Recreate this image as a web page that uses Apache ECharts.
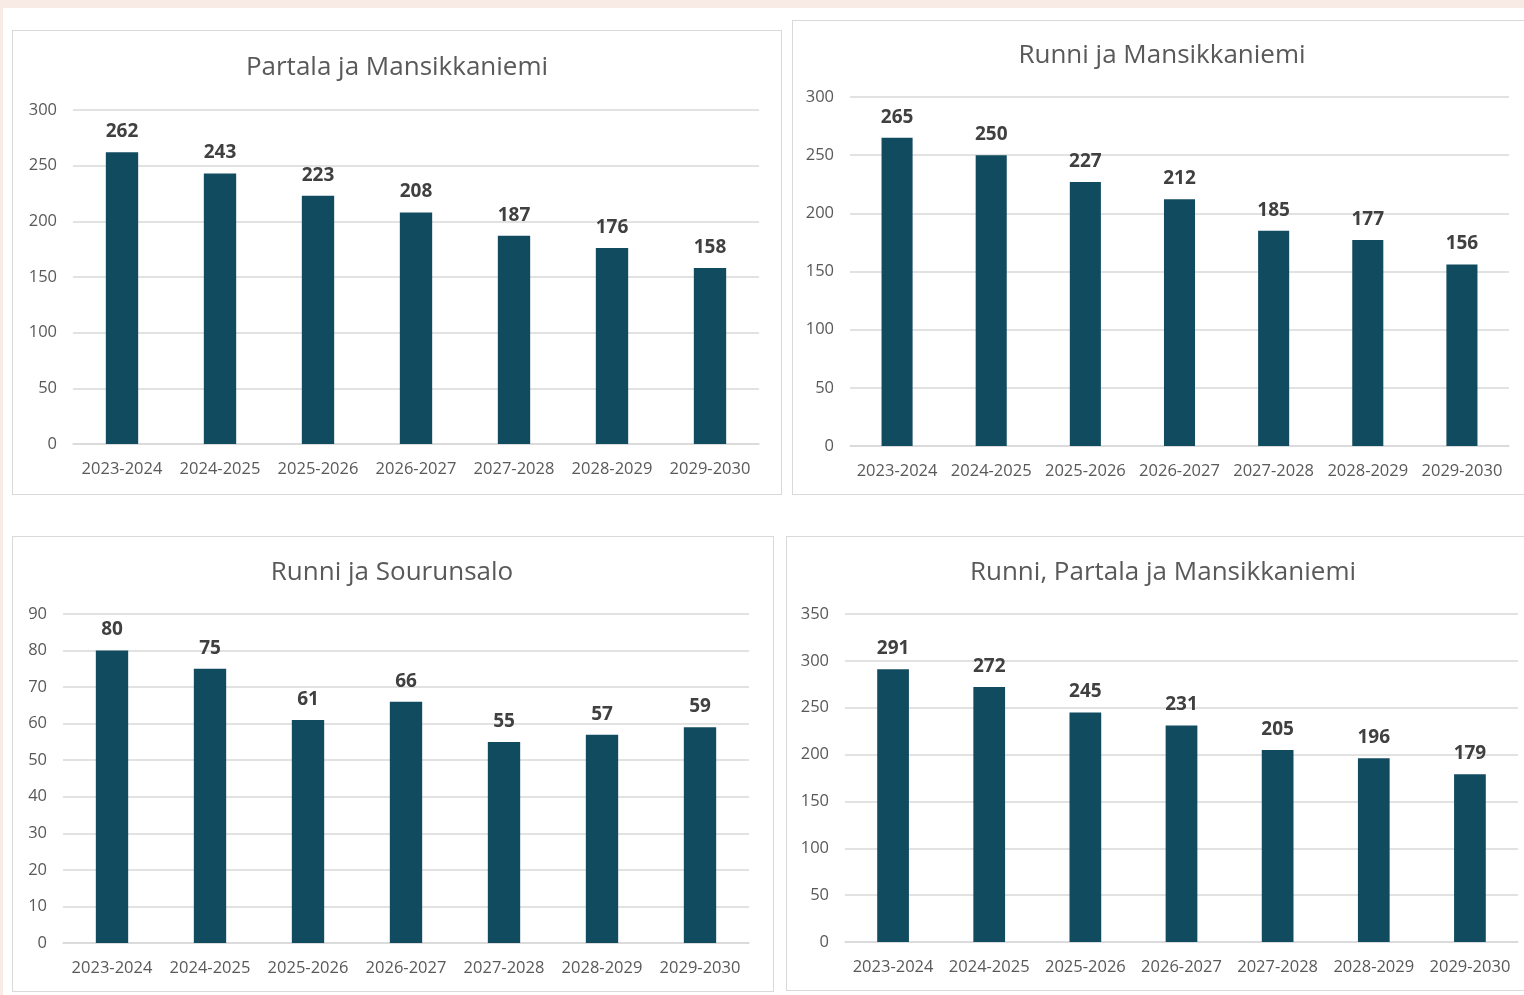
<!DOCTYPE html>
<html>
<head>
<meta charset="utf-8">
<script src="https://cdn.jsdelivr.net/npm/echarts@6/dist/echarts.min.js"></script>
<style>
  html, body { margin: 0; padding: 0; width: 1524px; height: 995px; overflow: hidden; background: #ffffff; }
  .strip-top { position: absolute; left: 0; top: 0; width: 1524px; height: 8px; background: #f8ebe6; }
  .strip-left { position: absolute; left: 0; top: 0; width: 3px; height: 995px; background: #f8ebe6; }
  .panel { position: absolute; border: 1px solid #d9d9d9; background: #ffffff; box-sizing: border-box; }
  #chart { position: absolute; left: 0; top: 0; width: 1524px; height: 995px; }
</style>
</head>
<body>
<div class="strip-top"></div>
<div class="strip-left"></div>
<div class="panel" style="left:12px;top:30px;width:770px;height:465px;"></div>
<div class="panel" style="left:792px;top:20px;width:740px;height:475px;"></div>
<div class="panel" style="left:12px;top:536px;width:762px;height:456px;"></div>
<div class="panel" style="left:786px;top:536px;width:745px;height:455px;"></div>
<div id="chart"></div>
<script>
const categories = ['2023-2024', '2024-2025', '2025-2026', '2026-2027', '2027-2028', '2028-2029', '2029-2030'];
const titles = ['Partala ja Mansikkaniemi', 'Runni ja Mansikkaniemi', 'Runni ja Sourunsalo', 'Runni, Partala ja Mansikkaniemi'];
const partalaMansikkaniemi = [262, 243, 223, 208, 187, 176, 158];
const runniMansikkaniemi = [265, 250, 227, 212, 185, 177, 156];
const runniSourunsalo = [80, 75, 61, 66, 55, 57, 59];
const runniPartalaMansikkaniemi = [291, 272, 245, 231, 205, 196, 179];
const yMax = [300, 300, 90, 350];
const yInterval = [50, 50, 10, 50];

const seriesData = [partalaMansikkaniemi, runniMansikkaniemi, runniSourunsalo, runniPartalaMansikkaniemi];
const grids = [
  { left: 73, top: 110, width: 686, height: 334 },
  { left: 850, top: 97, width: 659, height: 349 },
  { left: 63, top: 614, width: 686, height: 329 },
  { left: 845, top: 614, width: 673, height: 328 }
];
const titlePos = [[397, 68], [1162, 56], [392, 573], [1163, 573]];
const FONT = '"Open Sans", "Noto Sans", sans-serif';
const barColor = '#114b60';

const chart = echarts.init(document.getElementById('chart'), null, { renderer: 'canvas' });
const option = {
  backgroundColor: 'transparent',
  animation: false,
  graphic: titles.map((t, i) => ({
    type: 'text',
    x: titlePos[i][0],
    y: titlePos[i][1],
    style: {
      text: t,
      fill: '#595959',
      font: '26px ' + FONT,
      textAlign: 'center',
      textVerticalAlign: 'middle'
    }
  })),
  grid: grids.map(g => Object.assign({ containLabel: false }, g)),
  xAxis: grids.map((g, i) => ({
    type: 'category',
    gridIndex: i,
    data: categories,
    axisLine: { show: true, lineStyle: { color: '#d9d9d9', width: 1.5 } },
    axisTick: { show: false },
    axisLabel: { color: '#595959', fontSize: 16.5, fontFamily: FONT, margin: 17, interval: 0 }
  })),
  yAxis: grids.map((g, i) => ({
    type: 'value',
    gridIndex: i,
    min: 0,
    max: yMax[i],
    interval: yInterval[i],
    axisLine: { show: false },
    axisTick: { show: false },
    splitLine: { lineStyle: { color: '#d9d9d9', width: 1.5 } },
    axisLabel: { color: '#595959', fontSize: 16.5, fontFamily: FONT, margin: 16 }
  })),
  series: seriesData.map((d, i) => ({
    type: 'bar',
    xAxisIndex: i,
    yAxisIndex: i,
    data: d,
    barWidth: '33%',
    itemStyle: { color: barColor },
    label: {
      show: true,
      position: 'top',
      distance: 11,
      color: '#404040',
      fontWeight: 'bold',
      fontSize: 19,
      fontFamily: FONT
    }
  }))
};
chart.setOption(option);
</script>
</body>
</html>
